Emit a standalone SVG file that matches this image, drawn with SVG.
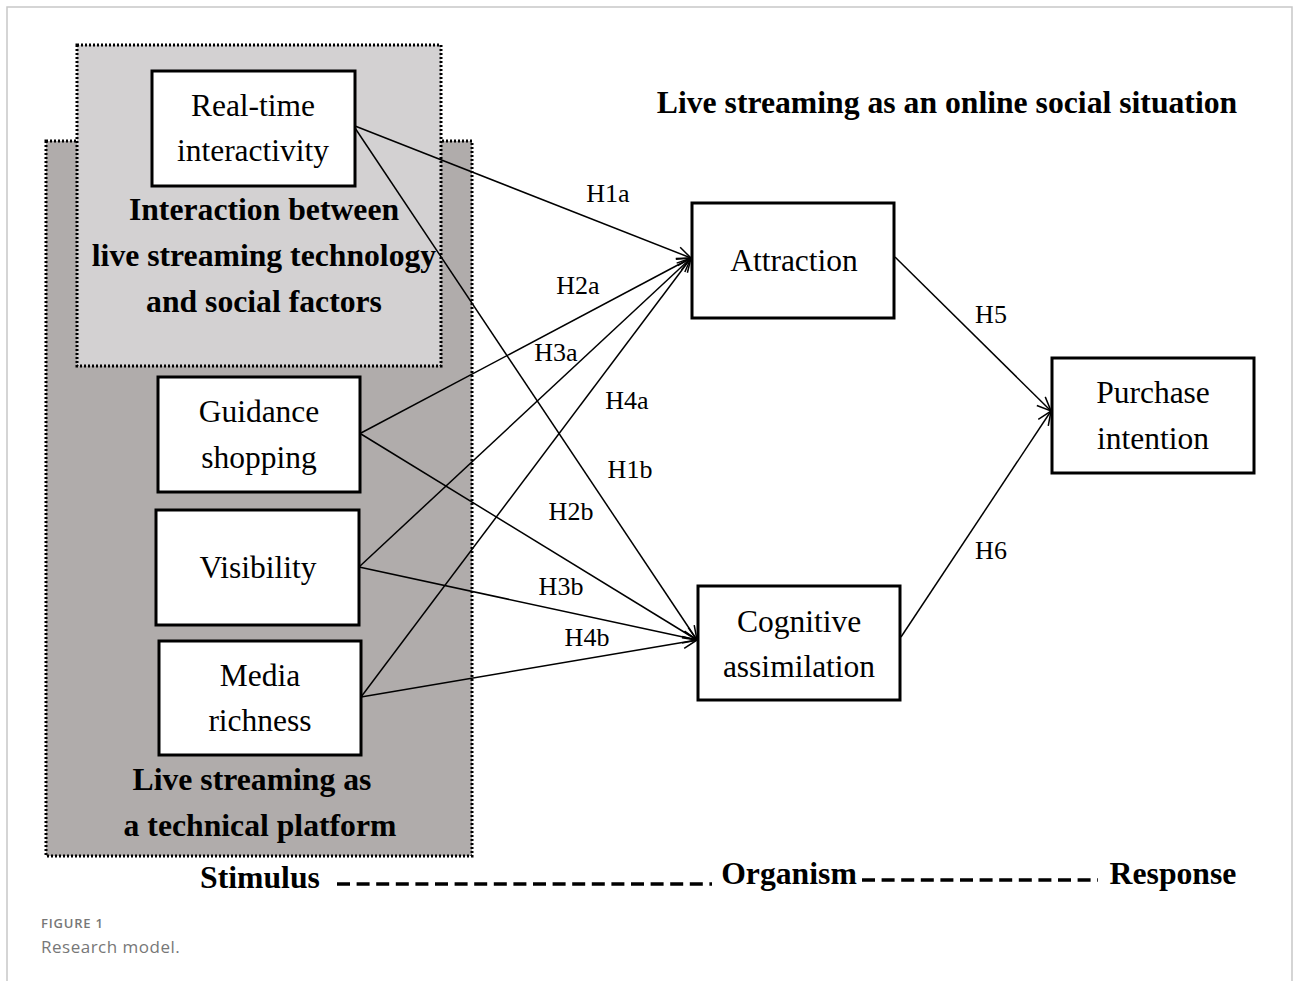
<svg xmlns="http://www.w3.org/2000/svg" width="1293" height="981" viewBox="0 0 1293 981">
<defs>
<style>
.frame{fill:none;stroke:#c8c8c8;stroke-width:1.5}
.zone{stroke:#000;stroke-width:3;stroke-dasharray:2 2}
.box{fill:#fff;stroke:#000;stroke-width:3}
.t{font-family:"Liberation Serif","Times New Roman",serif;font-size:31.5px;fill:#000;text-anchor:middle}
.b{font-family:"Liberation Serif","Times New Roman",serif;font-size:31.7px;font-weight:bold;fill:#000;text-anchor:middle}
.h{font-family:"Liberation Serif","Times New Roman",serif;font-size:26px;fill:#000;text-anchor:middle}
.c{fill:none;stroke:#000;stroke-width:1.5}
.dash{fill:none;stroke:#000;stroke-width:3.5;stroke-dasharray:13 6.6}
</style>
<marker id="arr" markerUnits="userSpaceOnUse" markerWidth="18" markerHeight="14" refX="15" refY="7" orient="auto">
<path d="M1,1 L15,7 L1,13" fill="none" stroke="#000" stroke-width="1.5"/>
</marker>
</defs>
<rect width="1293" height="981" fill="#fff"/>
<path class="frame" d="M7,981 V7 H1292 V981"/>

<g id="zone-technical">
<rect class="zone" x="46" y="141" width="426" height="715" fill="#b0acab"/>
<text class="b" x="252" y="790">Live streaming as</text>
<text class="b" x="260" y="836">a technical platform</text>
</g>
<g id="zone-interaction">
<rect class="zone" x="77" y="45" width="364" height="321" fill="#d3d1d2"/>
<text class="b" x="264" y="220">Interaction between</text>
<text class="b" x="264" y="266">live streaming technology</text>
<text class="b" x="264" y="312">and social factors</text>
</g>

<text id="title" class="b" x="947" y="113">Live streaming as an online social situation</text>

<g id="connectors">
<line class="c" x1="355" y1="126" x2="691" y2="258" marker-end="url(#arr)"/>
<line class="c" x1="355" y1="128" x2="697" y2="640" marker-end="url(#arr)"/>
<line class="c" x1="361" y1="433" x2="691" y2="258" marker-end="url(#arr)"/>
<line class="c" x1="361" y1="434" x2="697" y2="640" marker-end="url(#arr)"/>
<line class="c" x1="359" y1="567" x2="691" y2="258" marker-end="url(#arr)"/>
<line class="c" x1="359" y1="567" x2="697" y2="640" marker-end="url(#arr)"/>
<line class="c" x1="361" y1="697" x2="691" y2="258" marker-end="url(#arr)"/>
<line class="c" x1="361" y1="697" x2="697" y2="640" marker-end="url(#arr)"/>
<line class="c" x1="895" y1="257" x2="1051" y2="411" marker-end="url(#arr)"/>
<line class="c" x1="901" y1="637" x2="1051" y2="411" marker-end="url(#arr)"/>
<text class="h" x="608" y="202">H1a</text>
<text class="h" x="578" y="294">H2a</text>
<text class="h" x="556" y="361">H3a</text>
<text class="h" x="627" y="409">H4a</text>
<text class="h" x="630" y="478">H1b</text>
<text class="h" x="571" y="520">H2b</text>
<text class="h" x="561" y="595">H3b</text>
<text class="h" x="587" y="646">H4b</text>
<text class="h" x="991" y="323">H5</text>
<text class="h" x="991" y="559">H6</text>
</g>

<g id="node-realtime">
<rect class="box" x="152" y="71" width="203" height="115"/>
<text class="t" x="253" y="116">Real-time</text>
<text class="t" x="253" y="161">interactivity</text>
</g>
<g id="node-guidance">
<rect class="box" x="158" y="377" width="202" height="115"/>
<text class="t" x="259" y="422">Guidance</text>
<text class="t" x="259" y="468">shopping</text>
</g>
<g id="node-visibility">
<rect class="box" x="156" y="510" width="203" height="115"/>
<text class="t" x="258" y="578">Visibility</text>
</g>
<g id="node-media">
<rect class="box" x="159" y="641" width="202" height="114"/>
<text class="t" x="260" y="686">Media</text>
<text class="t" x="260" y="731">richness</text>
</g>
<g id="node-attraction">
<rect class="box" x="692" y="203" width="202" height="115"/>
<text class="t" x="794" y="271">Attraction</text>
</g>
<g id="node-cognitive">
<rect class="box" x="698" y="586" width="202" height="114"/>
<text class="t" x="799" y="632">Cognitive</text>
<text class="t" x="799" y="677">assimilation</text>
</g>
<g id="node-purchase">
<rect class="box" x="1052" y="358" width="202" height="115"/>
<text class="t" x="1153" y="403">Purchase</text>
<text class="t" x="1153" y="449">intention</text>
</g>

<g id="sor">
<text class="b" x="260" y="888">Stimulus</text>
<line class="dash" x1="337" y1="884" x2="712" y2="884"/>
<text class="b" x="789" y="884">Organism</text>
<line class="dash" x1="862" y1="880" x2="1098" y2="880"/>
<text class="b" x="1173" y="884">Response</text>
</g>

<text x="41" y="928" font-family="'Open Sans','Noto Sans',sans-serif" font-size="13" font-weight="600" letter-spacing="0.8" fill="#777">FIGURE 1</text>
<text x="41" y="953" font-family="'Open Sans','Noto Sans',sans-serif" font-size="17" letter-spacing="0.5" fill="#777">Research model.</text>
</svg>
